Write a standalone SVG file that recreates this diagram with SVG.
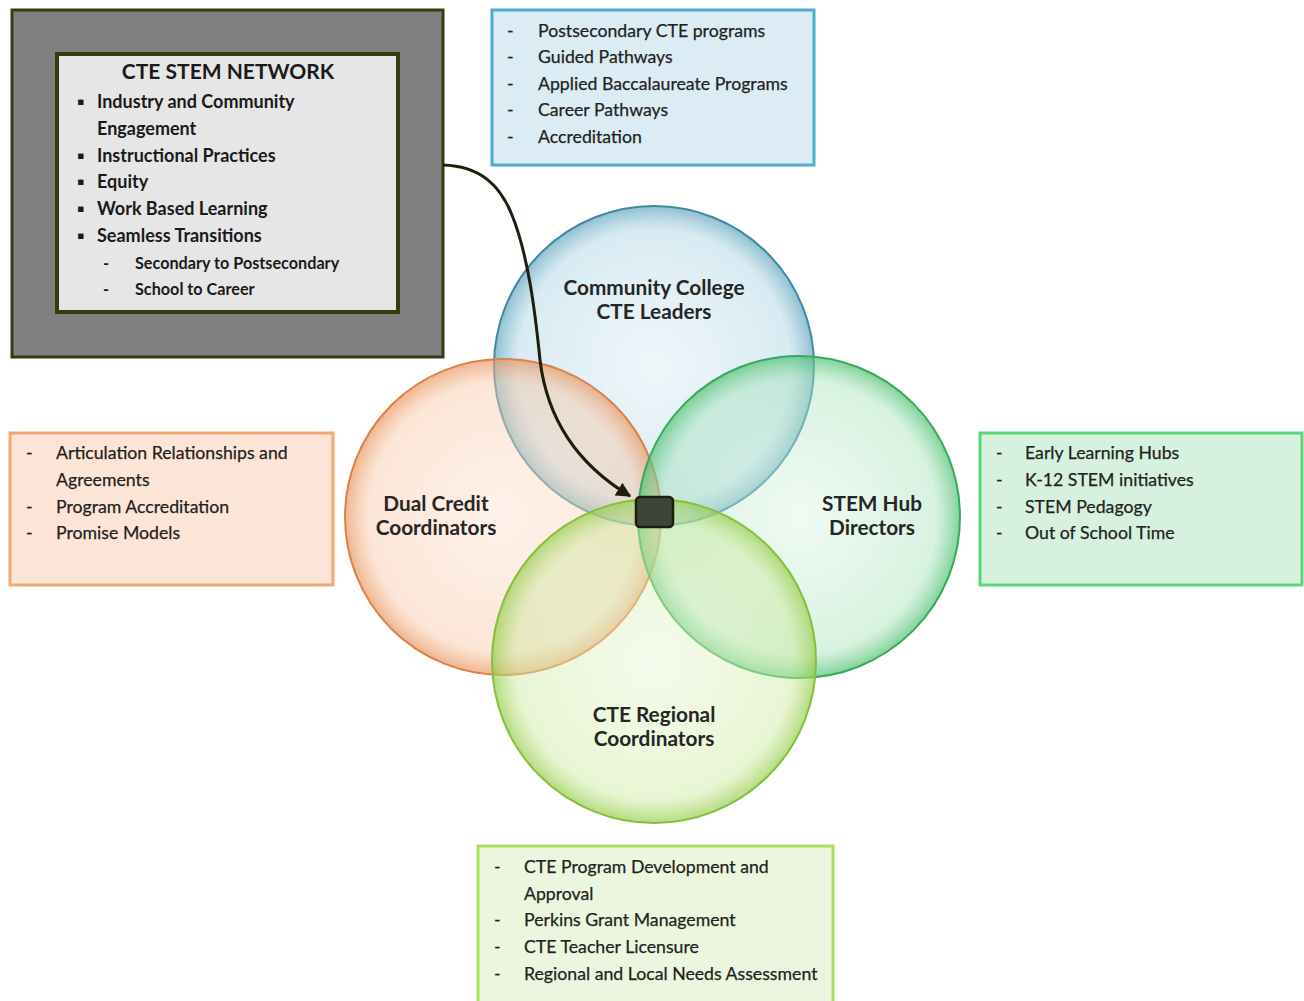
<svg xmlns="http://www.w3.org/2000/svg" width="1304" height="1001" viewBox="0 0 1304 1001">
<style>
.t{font-family:Lato,"Liberation Sans",sans-serif;font-size:17.7px;fill:#1f1f1f;stroke:#1f1f1f;stroke-width:0.25}
.s{font-family:Lato,"Liberation Sans",sans-serif;font-size:16.2px;font-weight:bold;fill:#1a1a1a}
.b{font-family:Lato,"Liberation Sans",sans-serif;font-size:18px;font-weight:bold;fill:#1a1a1a}
.h{font-family:Lato,"Liberation Sans",sans-serif;font-size:21px;font-weight:bold;fill:#1a1a1a}
.c{font-family:Lato,"Liberation Sans",sans-serif;font-size:20.8px;font-weight:bold;fill:#262626;text-anchor:middle}
</style>
<defs>
<radialGradient id="gB"><stop offset="0" stop-color="#cfe6f0" stop-opacity="0.35"/><stop offset="0.85" stop-color="#a9d2e3" stop-opacity="0.45"/><stop offset="1" stop-color="#5fa3bd" stop-opacity="0.7"/></radialGradient>
<radialGradient id="gO"><stop offset="0" stop-color="#fde3d2" stop-opacity="0.45"/><stop offset="0.85" stop-color="#f8c7a6" stop-opacity="0.45"/><stop offset="1" stop-color="#e8955f" stop-opacity="0.7"/></radialGradient>
<radialGradient id="gG"><stop offset="0" stop-color="#d8f3e0" stop-opacity="0.4"/><stop offset="0.85" stop-color="#a8e3bb" stop-opacity="0.45"/><stop offset="1" stop-color="#4cbf70" stop-opacity="0.7"/></radialGradient>
<radialGradient id="gL"><stop offset="0" stop-color="#e9f5d6" stop-opacity="0.45"/><stop offset="0.85" stop-color="#cdea9f" stop-opacity="0.45"/><stop offset="1" stop-color="#94cc4a" stop-opacity="0.7"/></radialGradient>
<marker id="ah" viewBox="0 0 10 10" refX="9" refY="5" markerWidth="5" markerHeight="5" orient="auto"><path d="M0,0 L10,5 L0,10 z" fill="#1e1e0a"/></marker>
</defs>
<rect width="1304" height="1001" fill="#ffffff"/>

<g id="network">
<rect x="12" y="10" width="431" height="347" fill="#7f7f7f" stroke="#3a3a12" stroke-width="3"/>
<rect x="57" y="54" width="341" height="258" fill="#e6e6e6" stroke="#3a3a12" stroke-width="4"/>
<text class="h" x="228" y="79" text-anchor="middle">CTE STEM NETWORK</text>
<g class="b">
<text x="77" y="108">▪</text><text x="97" y="108">Industry and Community</text>
<text x="97" y="135">Engagement</text>
<text x="77" y="162">▪</text><text x="97" y="162">Instructional Practices</text>
<text x="77" y="188">▪</text><text x="97" y="188">Equity</text>
<text x="77" y="215">▪</text><text x="97" y="215">Work Based Learning</text>
<text x="77" y="242">▪</text><text x="97" y="242">Seamless Transitions</text>
</g>
<text class="s" x="103" y="269">-</text><text class="s" x="135" y="269">Secondary to Postsecondary</text>
<text class="s" x="103" y="295">-</text><text class="s" x="135" y="295">School to Career</text>
</g>

<g id="box-cc">
<rect x="492" y="10" width="322" height="155" fill="#dbecf4" stroke="#4aaec8" stroke-width="3"/>
<text class="t" x="507" y="37">-</text><text class="t" x="538" y="37">Postsecondary CTE programs</text>
<text class="t" x="507" y="63">-</text><text class="t" x="538" y="63">Guided Pathways</text>
<text class="t" x="507" y="90">-</text><text class="t" x="538" y="90">Applied Baccalaureate Programs</text>
<text class="t" x="507" y="116">-</text><text class="t" x="538" y="116">Career Pathways</text>
<text class="t" x="507" y="143">-</text><text class="t" x="538" y="143">Accreditation</text>
</g>

<g id="box-dc">
<rect x="10" y="433" width="323" height="152" fill="#fce5d6" stroke="#f2a86e" stroke-width="3"/>
<text class="t" x="26" y="459">-</text><text class="t" x="56" y="459">Articulation Relationships and</text>
<text class="t" x="56" y="486">Agreements</text>
<text class="t" x="26" y="513">-</text><text class="t" x="56" y="513">Program Accreditation</text>
<text class="t" x="26" y="539">-</text><text class="t" x="56" y="539">Promise Models</text>
</g>

<g id="box-hub">
<rect x="980" y="433" width="322" height="152" fill="#d6f1de" stroke="#5cd47a" stroke-width="3"/>
<text class="t" x="996" y="459">-</text><text class="t" x="1025" y="459">Early Learning Hubs</text>
<text class="t" x="996" y="486">-</text><text class="t" x="1025" y="486">K-12 STEM initiatives</text>
<text class="t" x="996" y="513">-</text><text class="t" x="1025" y="513">STEM Pedagogy</text>
<text class="t" x="996" y="539">-</text><text class="t" x="1025" y="539">Out of School Time</text>
</g>

<g id="box-reg">
<rect x="478" y="846" width="355" height="160" fill="#ecf6de" stroke="#a8e25c" stroke-width="3"/>
<text class="t" x="494" y="873">-</text><text class="t" x="524" y="873">CTE Program Development and</text>
<text class="t" x="524" y="900">Approval</text>
<text class="t" x="494" y="926">-</text><text class="t" x="524" y="926">Perkins Grant Management</text>
<text class="t" x="494" y="953">-</text><text class="t" x="524" y="953">CTE Teacher Licensure</text>
<text class="t" x="494" y="980">-</text><text class="t" x="524" y="980">Regional and Local Needs Assessment</text>
</g>

<g id="circle-cc"><circle cx="654" cy="366" r="160" fill="url(#gB)" stroke="#3f8aa2" stroke-width="2"/></g>
<g id="circle-dc"><circle cx="503" cy="517" r="158" fill="url(#gO)" stroke="#d9834a" stroke-width="2"/></g>
<g id="circle-hub"><circle cx="799" cy="517" r="161" fill="url(#gG)" stroke="#38a95c" stroke-width="2"/></g>
<g id="circle-reg"><circle cx="654" cy="661" r="162" fill="url(#gL)" stroke="#86bf3c" stroke-width="2"/></g>

<g id="labels">
<text class="c" x="654" y="295">Community College</text>
<text class="c" x="654" y="319">CTE Leaders</text>
<text class="c" x="436" y="511">Dual Credit</text>
<text class="c" x="436" y="535">Coordinators</text>
<text class="c" x="872" y="511">STEM Hub</text>
<text class="c" x="872" y="535">Directors</text>
<text class="c" x="654" y="722">CTE Regional</text>
<text class="c" x="654" y="746">Coordinators</text>
</g>

<g id="center"><rect x="636" y="497" width="37" height="30" rx="4" fill="#3c4538" stroke="#1e1e0a" stroke-width="2.5"/></g>

<g id="connectors">
<path d="M443,165 C480,166 500,185 512,215 C528,255 535,310 540,360 C546,410 570,460 630,496" fill="none" stroke="#1e1e0a" stroke-width="3" marker-end="url(#ah)"/>
</g>
</svg>
